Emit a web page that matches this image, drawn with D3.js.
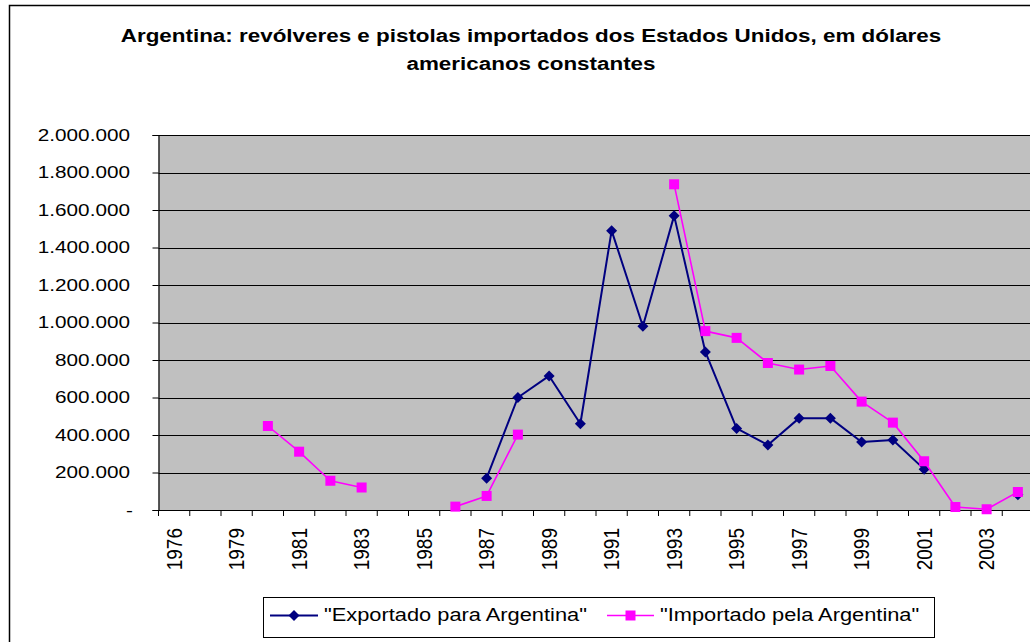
<!DOCTYPE html>
<html>
<head>
<meta charset="utf-8">
<script src="https://cdn.jsdelivr.net/npm/d3@7"></script>
<style>
  html, body { margin: 0; padding: 0; background: #fff; }
  svg { display: block; }
  text { font-family: "Liberation Sans", Arial, sans-serif; fill: #000; }
</style>
</head>
<body>
<svg id="chart" width="1030" height="642"></svg>
<script>
const years = ["1976","1978","1979","1980","1981","1982","1983","1984","1985","1986","1987","1988","1989","1990","1991","1992","1993","1994","1995","1996","1997","1998","1999","2000","2001","2002","2003","2004"];
const exportado = [null,null,null,null,null,null,null,null,null,null,170000,600000,715000,460000,1490000,980000,1570000,843000,435000,347000,490000,490000,363000,373000,218000,null,null,82000];
const importado = [null,null,null,448000,311000,156000,120000,null,null,18000,75000,402000,null,null,null,null,1737000,954000,918000,784000,749000,768000,578000,466000,260000,16000,4000,96000];
const yTicks = [0,200000,400000,600000,800000,1000000,1200000,1400000,1600000,1800000,2000000];
const titleLines = ["Argentina: revólveres e pistolas importados dos Estados Unidos, em dólares","americanos constantes"];
const seriesNames = ["\"Exportado para Argentina\"","\"Importado pela Argentina\""];

const svg = d3.select("#chart");
const W = 1030, H = 642;
const plot = {left: 158.5, top: 135, bottom: 510, step: 31.25};
const plotRight = plot.left + years.length * plot.step;

// outer frame
svg.append("rect").attr("x", 9.5).attr("y", 5.5).attr("width", W + 20).attr("height", H + 20)
  .attr("fill", "#fff").attr("stroke", "#000").attr("stroke-width", 1.5);

const x = d3.scaleBand().domain(years).range([plot.left, plotRight]).padding(0);
const y = d3.scaleLinear().domain([0, 2000000]).range([plot.bottom, plot.top]);

// plot background
svg.append("rect").attr("x", plot.left).attr("y", plot.top)
  .attr("width", plotRight - plot.left).attr("height", plot.bottom - plot.top)
  .attr("fill", "#C0C0C0");

// gridlines
svg.append("g").selectAll("line").data(yTicks.filter(d => d > 0)).join("line")
  .attr("x1", plot.left).attr("x2", plotRight)
  .attr("y1", d => Math.round(y(d)) + 0.5).attr("y2", d => Math.round(y(d)) + 0.5)
  .attr("stroke", "#000").attr("stroke-width", 1);

// y axis
const loc = d3.formatLocale({decimal: ",", thousands: ".", grouping: [3], currency: ["", ""]});
const fmt = loc.format(",.0f");
const yAxis = d3.axisLeft(y).tickValues(yTicks).tickSize(6).tickFormat(d => d === 0 ? "-" : fmt(d));
const yg = svg.append("g").attr("transform", `translate(${plot.left},0)`).call(yAxis);
yg.select(".domain").attr("stroke", "#000").attr("stroke-width", 1.2);
yg.selectAll(".tick line").attr("stroke", "#000");
yg.selectAll(".tick text").remove();
svg.append("g").selectAll("text").data(yTicks).join("text")
  .attr("transform", d => `translate(${d === 0 ? 133 : 130},${y(d)}) scale(1.22,1)`)
  .attr("text-anchor", "end").attr("dy", "0.35em")
  .style("font-size", "17px")
  .text(d => d === 0 ? "-" : fmt(d));

// x axis
const xg = svg.append("g").attr("transform", `translate(0,${plot.bottom})`);
xg.append("line").attr("x1", plot.left).attr("x2", plotRight).attr("y1", 0.5).attr("y2", 0.5)
  .attr("stroke", "#000").attr("stroke-width", 1.2);
const boundaries = years.map(d => x(d)).concat([plotRight]);
xg.selectAll("line.tk").data(boundaries).join("line").attr("class", "tk")
  .attr("x1", d => d).attr("x2", d => d).attr("y1", 0).attr("y2", 6)
  .attr("stroke", "#000");
svg.append("g").selectAll("text").data(years.filter((d, i) => i % 2 === 0)).join("text")
  .attr("transform", d => `translate(${x(d) + x.bandwidth() / 2},${plot.bottom + 18}) scale(1.15,1) rotate(-90)`)
  .attr("text-anchor", "end").attr("dy", "0.35em")
  .style("font-size", "19px")
  .text(d => d);

// series
const cx = (d, i) => x(years[i]) + x.bandwidth() / 2;
const mkLine = d3.line().defined(d => d != null).x((d, i) => cx(d, i)).y(d => y(d));
const series = [
  {name: seriesNames[0], values: exportado, color: "#000080", width: 2, sym: d3.symbolDiamond2, size: 11},
  {name: seriesNames[1], values: importado, color: "#FF00FF", width: 1.6, sym: d3.symbolSquare2, size: 10}
];
const diamondPath = s => `M0,${-s/2}L${s/2},0L0,${s/2}L${-s/2},0Z`;
const squarePath = s => `M${-s/2},${-s/2}h${s}v${s}h${-s}Z`;
series.forEach((s, k) => {
  svg.append("path").attr("d", mkLine(s.values)).attr("fill", "none")
    .attr("stroke", s.color).attr("stroke-width", s.width).attr("stroke-linejoin", "round");
  const pts = s.values.map((v, i) => ({v, i})).filter(p => p.v != null);
  svg.append("g").selectAll("path").data(pts).join("path")
    .attr("transform", p => `translate(${cx(p.v, p.i)},${y(p.v)})`)
    .attr("d", k === 0 ? diamondPath(s.size) : squarePath(s.size))
    .attr("fill", s.color);
});

// title
svg.append("g").selectAll("text").data(titleLines).join("text")
  .attr("transform", (d, i) => `translate(531,${42 + i * 28}) scale(1.18,1)`)
  .attr("text-anchor", "middle")
  .style("font-size", "19px").style("font-weight", "bold")
  .text(d => d);

// legend
const lg = svg.append("g");
lg.append("rect").attr("x", 263.5).attr("y", 597.5).attr("width", 671).attr("height", 40)
  .attr("fill", "#fff").attr("stroke", "#000").attr("stroke-width", 1);
const legendPos = [{x1: 270, x2: 318, text: 324}, {x1: 607, x2: 654, text: 660}];
series.forEach((s, k) => {
  const p = legendPos[k];
  const ly = 615.5;
  lg.append("line").attr("x1", p.x1).attr("x2", p.x2).attr("y1", ly).attr("y2", ly)
    .attr("stroke", s.color).attr("stroke-width", s.width);
  lg.append("path").attr("transform", `translate(${(p.x1 + p.x2) / 2},${ly})`)
    .attr("d", k === 0 ? diamondPath(s.size) : squarePath(s.size)).attr("fill", s.color);
  lg.append("text").attr("transform", `translate(${p.text},621) scale(1.18,1)`)
    .style("font-size", "18.5px").text(s.name);
});
</script>
</body>
</html>
